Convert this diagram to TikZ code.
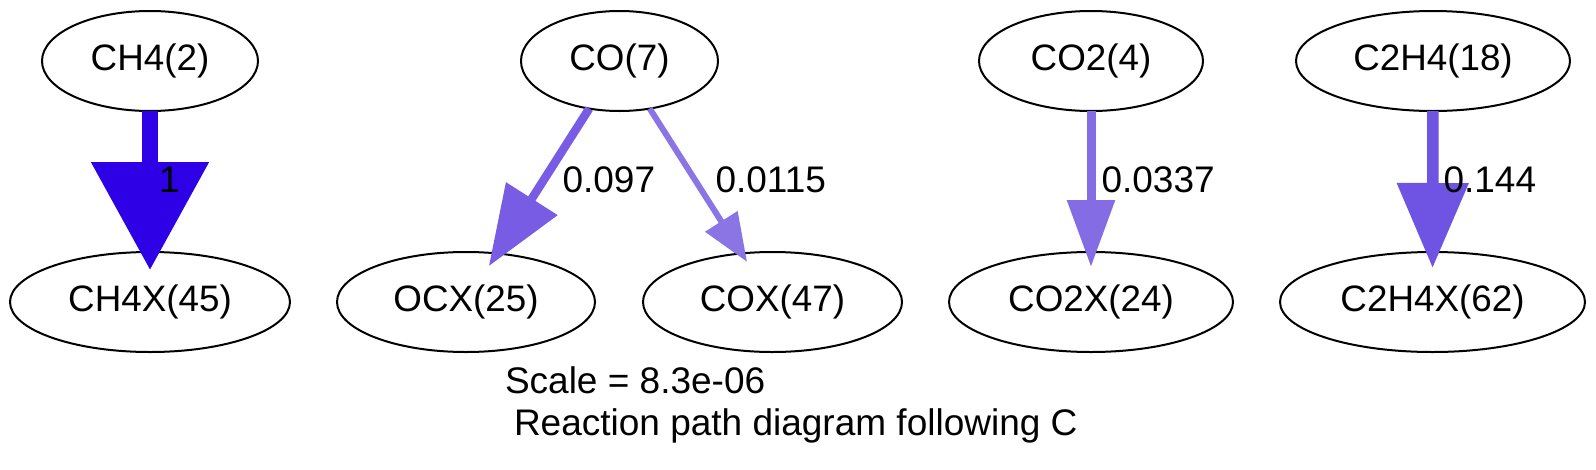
\documentclass[tikz,border=0pt]{standalone}
\usepackage{fontspec}
\setmainfont{Liberation Sans}
\usetikzlibrary{shapes.geometric,arrows.meta}
\definecolor{f1}{RGB}{46,0,230}
\definecolor{f097}{RGB}{120,92,228}
\definecolor{f0115}{RGB}{139,116,228}
\definecolor{f0337}{RGB}{132,108,228}
\definecolor{f144}{RGB}{111,84,227}
\tikzset{
  sp/.style={ellipse,draw=black,line width=2pt,inner sep=0pt,outer sep=0pt,minimum height=100pt,font=\fontsize{36.8}{44}\selectfont},
  lab/.style={anchor=base west,inner sep=0pt,outer sep=0pt,font=\fontsize{37}{44}\selectfont},
  flux/.style={draw=#1,fill=#1,line cap=butt}
}
\begin{document}
\begin{tikzpicture}[x=1pt,y=-1pt]
\useasboundingbox (0,0) rectangle (1596,469);
\node[sp,minimum width=216pt] (ch4) at (150,61) {CH4(2)};
\node[sp,minimum width=280pt] (ch4x) at (150,302) {CH4X(45)};
\node[sp,minimum width=197pt] (co) at (619.5,61) {CO(7)};
\node[sp,minimum width=258pt] (ocx) at (466,302) {OCX(25)};
\node[sp,minimum width=259pt] (cox) at (772.5,302) {COX(47)};
\node[sp,minimum width=224pt] (co2) at (1091,61) {CO2(4)};
\node[sp,minimum width=284pt] (co2x) at (1091,302) {CO2X(24)};
\node[sp,minimum width=274pt] (c2h4) at (1433,61) {C2H4(18)};
\node[sp,minimum width=305pt] (c2h4x) at (1432.5,302) {C2H4X(62)};

\draw[flux=f1,line width=16pt,-{Triangle[width=114pt,length=108pt]},shorten >=-18pt] (ch4) -- (ch4x);
\draw[flux=f097,line width=8.5pt,-{Triangle[width=59pt,length=80pt]},shorten >=-15pt] (co) -- (ocx);
\draw[flux=f0115,line width=6pt,-{Triangle[width=37pt,length=48pt]},shorten >=-10pt] (co) -- (cox);
\draw[flux=f0337,line width=9pt,-{Triangle[width=46pt,length=67pt]},shorten >=-15pt] (co2) -- (co2x);
\draw[flux=f144,line width=11.5pt,-{Triangle[width=69pt,length=85pt]},shorten >=-16pt] (c2h4) -- (c2h4x);

\node[lab] (l1) at (159,192) {1};
\node[lab] (l2) at (562.5,192) {0.097};
\node[lab] (l3) at (715.5,192) {0.0115};
\node[lab] (l4) at (1101.5,192) {0.0337};
\node[lab] (l5) at (1443.5,192) {0.144};
\node[lab] (scale) at (505,393) {Scale = 8.3e-06};
\node[lab] (title) at (514,435) {Reaction path diagram following C};
\end{tikzpicture}
\end{document}
